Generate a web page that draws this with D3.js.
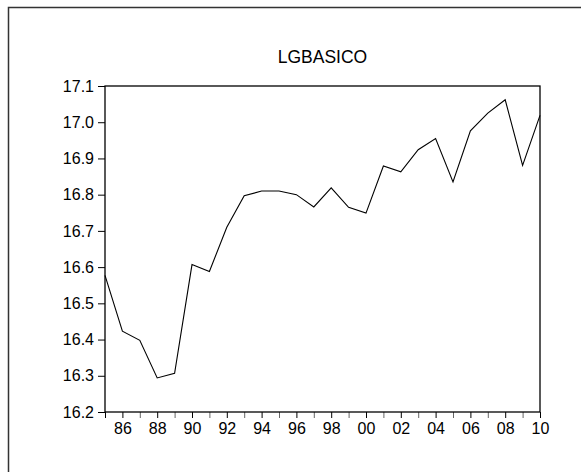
<!DOCTYPE html>
<html>
<head>
<meta charset="utf-8">
<script src="https://cdn.jsdelivr.net/npm/d3@7"></script>
<style>
  html, body { margin: 0; padding: 0; background: #fff; }
  svg { display: block; }
  text { font-family: "Liberation Sans", Arial, sans-serif; fill: #000; }
</style>
</head>
<body>
<svg id="chart" width="581" height="472"></svg>
<script>
const title = "LGBASICO";
const years = [1985,1986,1987,1988,1989,1990,1991,1992,1993,1994,1995,1996,1997,1998,1999,2000,2001,2002,2003,2004,2005,2006,2007,2008,2009,2010];
const values = [16.577,16.423,16.398,16.294,16.307,16.607,16.588,16.710,16.797,16.810,16.810,16.800,16.766,16.819,16.765,16.749,16.879,16.863,16.924,16.955,16.835,16.976,17.025,17.062,16.881,17.019];
const yTicks = [16.2,16.3,16.4,16.5,16.6,16.7,16.8,16.9,17.0,17.1];
const xLabelYears = [1986,1988,1990,1992,1994,1996,1998,2000,2002,2004,2006,2008,2010];

const svg = d3.select("#chart");
const W = 581, H = 472;
const plot = {left: 105, right: 540, top: 86, bottom: 412};

// outer frame (only top/left visible)
svg.append("rect")
  .attr("x", 8.5).attr("y", 7.5)
  .attr("width", W + 20).attr("height", H + 20)
  .attr("fill", "none").attr("stroke", "#333").attr("stroke-width", 1.5);

const x = d3.scaleLinear().domain([1985, 2010]).range([plot.left, plot.right]);
const y = d3.scaleLinear().domain([16.2, 17.1]).range([plot.bottom, plot.top]);

// title
svg.append("text")
  .attr("x", (plot.left + plot.right) / 2).attr("y", 63)
  .attr("text-anchor", "middle")
  .style("font-size", "17.5px")
  .text(title);

// y axis
const yAxis = d3.axisLeft(y).tickValues(yTicks).tickFormat(d3.format(".1f")).tickSize(7).tickPadding(4);
const gy = svg.append("g").attr("transform", `translate(${plot.left},0)`).call(yAxis);
gy.select(".domain").remove();
gy.selectAll("text").style("font-size", "16px").style("font-family", '"Liberation Sans", Arial, sans-serif').attr("fill", "#000");
gy.selectAll("line").attr("stroke", "#000");

// x axis
const xAxis = d3.axisBottom(x).tickValues(years).tickSize(6).tickPadding(5)
  .tickFormat(d => xLabelYears.includes(d) ? String(d % 100).padStart(2, "0") : "");
const gx = svg.append("g").attr("transform", `translate(0,${plot.bottom})`).call(xAxis);
gx.select(".domain").remove();
gx.selectAll("text").style("font-size", "16px").style("font-family", '"Liberation Sans", Arial, sans-serif').attr("fill", "#000");
gx.selectAll(".tick line").attr("stroke", d => (d % 2 === 0 || d === 1985) ? "#000" : "#666");

// plot frame
svg.append("rect")
  .attr("x", plot.left).attr("y", plot.top)
  .attr("width", plot.right - plot.left).attr("height", plot.bottom - plot.top)
  .attr("fill", "none").attr("stroke", "#000").attr("stroke-width", 1.3);

// line
const line = d3.line().x((d, i) => x(years[i])).y(d => y(d));
svg.append("path")
  .datum(values)
  .attr("d", line)
  .attr("fill", "none").attr("stroke", "#000").attr("stroke-width", 1.1);
</script>
</body>
</html>
